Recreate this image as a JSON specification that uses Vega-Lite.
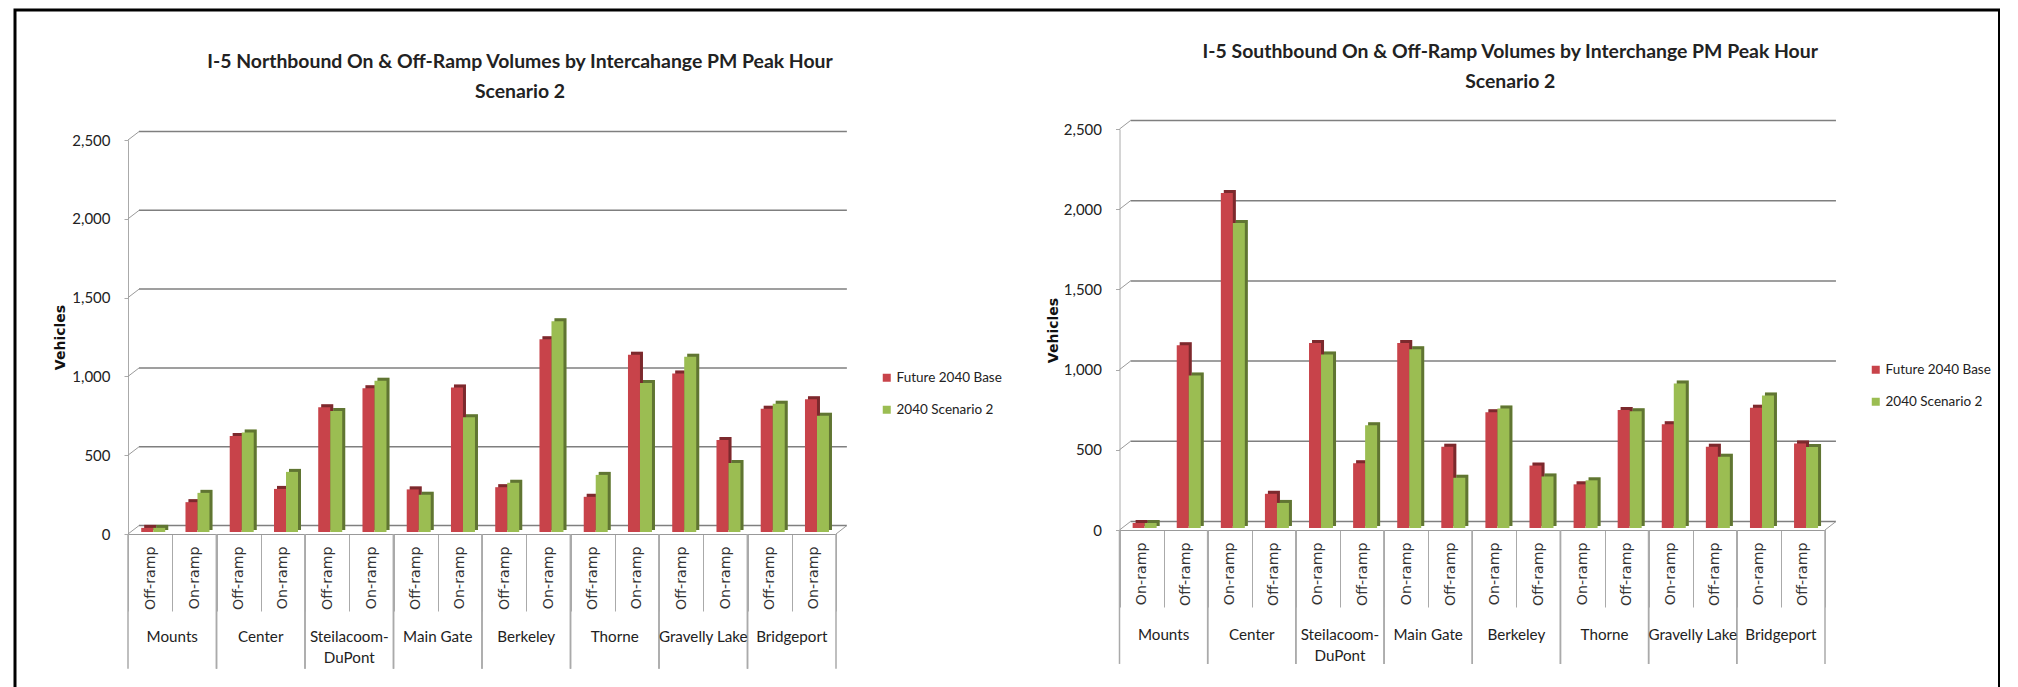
{"$schema":"https://vega.github.io/schema/vega-lite/v6.json","width":1984.5,"height":680,"padding":{"left":15,"top":10,"right":0,"bottom":0},"autosize":{"type":"none"},"background":"white","view":{"stroke":"#000","strokeWidth":3},
"datasets":{
"north":[
{"key":"Mounts|Off-ramp","series":"Future 2040 Base","value":20},{"key":"Mounts|Off-ramp","series":"2040 Scenario 2","value":20},
{"key":"Mounts|On-ramp","series":"Future 2040 Base","value":183},{"key":"Mounts|On-ramp","series":"2040 Scenario 2","value":242},
{"key":"Center|Off-ramp","series":"Future 2040 Base","value":603},{"key":"Center|Off-ramp","series":"2040 Scenario 2","value":625},
{"key":"Center|On-ramp","series":"Future 2040 Base","value":267},{"key":"Center|On-ramp","series":"2040 Scenario 2","value":375},
{"key":"Steilacoom-DuPont|Off-ramp","series":"Future 2040 Base","value":786},{"key":"Steilacoom-DuPont|Off-ramp","series":"2040 Scenario 2","value":761},
{"key":"Steilacoom-DuPont|On-ramp","series":"Future 2040 Base","value":906},{"key":"Steilacoom-DuPont|On-ramp","series":"2040 Scenario 2","value":953},
{"key":"Main Gate|Off-ramp","series":"Future 2040 Base","value":264},{"key":"Main Gate|Off-ramp","series":"2040 Scenario 2","value":230},
{"key":"Main Gate|On-ramp","series":"Future 2040 Base","value":911},{"key":"Main Gate|On-ramp","series":"2040 Scenario 2","value":722},
{"key":"Berkeley|Off-ramp","series":"Future 2040 Base","value":278},{"key":"Berkeley|Off-ramp","series":"2040 Scenario 2","value":306},
{"key":"Berkeley|On-ramp","series":"Future 2040 Base","value":1217},{"key":"Berkeley|On-ramp","series":"2040 Scenario 2","value":1331},
{"key":"Thorne|Off-ramp","series":"Future 2040 Base","value":217},{"key":"Thorne|Off-ramp","series":"2040 Scenario 2","value":356},
{"key":"Thorne|On-ramp","series":"Future 2040 Base","value":1119},{"key":"Thorne|On-ramp","series":"2040 Scenario 2","value":939},
{"key":"Gravelly Lake|Off-ramp","series":"Future 2040 Base","value":1000},{"key":"Gravelly Lake|Off-ramp","series":"2040 Scenario 2","value":1106},
{"key":"Gravelly Lake|On-ramp","series":"Future 2040 Base","value":578},{"key":"Gravelly Lake|On-ramp","series":"2040 Scenario 2","value":431},
{"key":"Bridgeport|Off-ramp","series":"Future 2040 Base","value":775},{"key":"Bridgeport|Off-ramp","series":"2040 Scenario 2","value":808},
{"key":"Bridgeport|On-ramp","series":"Future 2040 Base","value":836},{"key":"Bridgeport|On-ramp","series":"2040 Scenario 2","value":731}],
"south":[
{"key":"Mounts|On-ramp","series":"Future 2040 Base","value":25},{"key":"Mounts|On-ramp","series":"2040 Scenario 2","value":25},
{"key":"Mounts|Off-ramp","series":"Future 2040 Base","value":1133},{"key":"Mounts|Off-ramp","series":"2040 Scenario 2","value":945},
{"key":"Center|On-ramp","series":"Future 2040 Base","value":2083},{"key":"Center|On-ramp","series":"2040 Scenario 2","value":1895},
{"key":"Center|Off-ramp","series":"Future 2040 Base","value":207},{"key":"Center|Off-ramp","series":"2040 Scenario 2","value":150},
{"key":"Steilacoom-DuPont|On-ramp","series":"Future 2040 Base","value":1147},{"key":"Steilacoom-DuPont|On-ramp","series":"2040 Scenario 2","value":1076},
{"key":"Steilacoom-DuPont|Off-ramp","series":"Future 2040 Base","value":397},{"key":"Steilacoom-DuPont|Off-ramp","series":"2040 Scenario 2","value":634},
{"key":"Main Gate|On-ramp","series":"Future 2040 Base","value":1147},{"key":"Main Gate|On-ramp","series":"2040 Scenario 2","value":1108},
{"key":"Main Gate|Off-ramp","series":"Future 2040 Base","value":500},{"key":"Main Gate|Off-ramp","series":"2040 Scenario 2","value":307},
{"key":"Berkeley|On-ramp","series":"Future 2040 Base","value":715},{"key":"Berkeley|On-ramp","series":"2040 Scenario 2","value":739},
{"key":"Berkeley|Off-ramp","series":"Future 2040 Base","value":383},{"key":"Berkeley|Off-ramp","series":"2040 Scenario 2","value":315},
{"key":"Thorne|On-ramp","series":"Future 2040 Base","value":266},{"key":"Thorne|On-ramp","series":"2040 Scenario 2","value":291},
{"key":"Thorne|Off-ramp","series":"Future 2040 Base","value":730},{"key":"Thorne|Off-ramp","series":"2040 Scenario 2","value":722},
{"key":"Gravelly Lake|On-ramp","series":"Future 2040 Base","value":640},{"key":"Gravelly Lake|On-ramp","series":"2040 Scenario 2","value":894},
{"key":"Gravelly Lake|Off-ramp","series":"Future 2040 Base","value":500},{"key":"Gravelly Lake|Off-ramp","series":"2040 Scenario 2","value":438},
{"key":"Bridgeport|On-ramp","series":"Future 2040 Base","value":743},{"key":"Bridgeport|On-ramp","series":"2040 Scenario 2","value":820},
{"key":"Bridgeport|Off-ramp","series":"Future 2040 Base","value":520},{"key":"Bridgeport|Off-ramp","series":"2040 Scenario 2","value":498}],
"grid":[{"v":0},{"v":500},{"v":1000},{"v":1500},{"v":2000},{"v":2500}],
"floor":[{"v":0}],
"groupsN":[{"label":"Mounts","first":"Mounts|Off-ramp","second":"Mounts|On-ramp"},{"label":"Center","first":"Center|Off-ramp","second":"Center|On-ramp"},{"label":"Steilacoom-\nDuPont","first":"Steilacoom-DuPont|Off-ramp","second":"Steilacoom-DuPont|On-ramp"},{"label":"Main Gate","first":"Main Gate|Off-ramp","second":"Main Gate|On-ramp"},{"label":"Berkeley","first":"Berkeley|Off-ramp","second":"Berkeley|On-ramp"},{"label":"Thorne","first":"Thorne|Off-ramp","second":"Thorne|On-ramp"},{"label":"Gravelly Lake","first":"Gravelly Lake|Off-ramp","second":"Gravelly Lake|On-ramp"},{"label":"Bridgeport","first":"Bridgeport|Off-ramp","second":"Bridgeport|On-ramp"}],
"groupsS":[{"label":"Mounts","first":"Mounts|On-ramp","second":"Mounts|Off-ramp"},{"label":"Center","first":"Center|On-ramp","second":"Center|Off-ramp"},{"label":"Steilacoom-\nDuPont","first":"Steilacoom-DuPont|On-ramp","second":"Steilacoom-DuPont|Off-ramp"},{"label":"Main Gate","first":"Main Gate|On-ramp","second":"Main Gate|Off-ramp"},{"label":"Berkeley","first":"Berkeley|On-ramp","second":"Berkeley|Off-ramp"},{"label":"Thorne","first":"Thorne|On-ramp","second":"Thorne|Off-ramp"},{"label":"Gravelly Lake","first":"Gravelly Lake|On-ramp","second":"Gravelly Lake|Off-ramp"},{"label":"Bridgeport","first":"Bridgeport|On-ramp","second":"Bridgeport|Off-ramp"}],
"titleN":[{"t":"I-5 Northbound On & Off-Ramp Volumes by Intercahange PM Peak Hour\nScenario 2"}],
"titleS":[{"t":"I-5 Southbound On & Off-Ramp Volumes by Interchange PM Peak Hour\nScenario 2"}]
},
"resolve":{"scale":{"x":"independent","y":"independent","color":"independent"}},
"layer":[
{"layer":[
{"data":{"name":"grid"},"mark":{"type":"rule","color":"#7f7f7f","strokeWidth":1.5,"xOffset":11,"yOffset":-8.5,"x2Offset":33},"encoding":{"x":{"datum":"Mounts|Off-ramp","bandPosition":0,"type":"nominal","scale":{"domain":["Mounts|Off-ramp","Mounts|On-ramp","Center|Off-ramp","Center|On-ramp","Steilacoom-DuPont|Off-ramp","Steilacoom-DuPont|On-ramp","Main Gate|Off-ramp","Main Gate|On-ramp","Berkeley|Off-ramp","Berkeley|On-ramp","Thorne|Off-ramp","Thorne|On-ramp","Gravelly Lake|Off-ramp","Gravelly Lake|On-ramp","Bridgeport|Off-ramp","Bridgeport|On-ramp"],"range":[113,821],"paddingInner":0,"paddingOuter":0},"axis":{"orient":"bottom","title":null,"offset":-156,"labelExpr":"split(datum.label,'|')[1]","labelAngle":-90,"labelFont":"DejaVu Sans","labelFontSize":14.2,"labelColor":"#333","labelPadding":-65,"tickBand":"extent","tickSize":77,"tickColor":"#aaa","domainColor":"#999","labelOverlap":false,"grid":false}},"x2":{"datum":"Bridgeport|On-ramp"},"y":{"field":"v","type":"quantitative","scale":{"domain":[0,2500],"range":[524,130],"nice":false,"zero":false},"axis":{"orient":"left","title":"Vehicles","titleFont":"DejaVu Sans","titleFontSize":14,"titleFontWeight":"bold","titleColor":"#111","titleX":-61,"titleY":327,"offset":-113,"values":[0,500,1000,1500,2000,2500],"format":",d","labelFont":"Lato","labelFontSize":15,"labelColor":"#222","labelPadding":14,"tickSize":4,"tickColor":"#aaa","domainColor":"#aaa","grid":false}}}},
{"data":{"name":"grid"},"mark":{"type":"rule","color":"#9a9a9a","strokeWidth":1,"x2Offset":-11,"y2Offset":-8.5},"encoding":{"x":{"datum":"Mounts|Off-ramp","bandPosition":0,"type":"nominal"},"x2":{"datum":"Mounts|Off-ramp"},"y":{"field":"v","type":"quantitative"},"y2":{"field":"v"}}},
{"data":{"name":"floor"},"mark":{"type":"rule","color":"#9a9a9a","strokeWidth":1,"x2Offset":33,"y2Offset":-8.5},"encoding":{"x":{"datum":"Bridgeport|On-ramp","bandPosition":1,"type":"nominal"},"x2":{"datum":"Bridgeport|On-ramp"},"y":{"field":"v","type":"quantitative"},"y2":{"field":"v"}}},
{"data":{"name":"groupsN"},"mark":{"type":"rule","color":"#aaa","strokeWidth":1.5},"encoding":{"x":{"field":"first","type":"nominal","bandPosition":0},"y":{"datum":0,"type":"quantitative"},"y2":{"datum":-855}}},
{"data":{"name":"groupsN"},"mark":{"type":"rule","color":"#aaa","strokeWidth":1.5},"encoding":{"x":{"field":"second","type":"nominal","bandPosition":1},"y":{"datum":0,"type":"quantitative"},"y2":{"datum":-855}}},
{"data":{"name":"groupsN"},"mark":{"type":"text","font":"Lato","fontSize":15.2,"color":"#222","baseline":"top","lineBreak":"\n","lineHeight":21},"encoding":{"x":{"field":"second","type":"nominal","bandPosition":0},"y":{"datum":-606,"type":"quantitative"},"text":{"field":"label"}}},
{"data":{"name":"titleN"},"mark":{"type":"text","font":"Lato","fontWeight":"bold","fontSize":19.4,"color":"#222","baseline":"top","lineBreak":"\n","lineHeight":30,"dx":38},"encoding":{"x":{"datum":"Berkeley|Off-ramp","bandPosition":0,"type":"nominal"},"y":{"datum":3052,"type":"quantitative"},"text":{"field":"t"}}},
{"data":{"name":"north"},"mark":{"type":"bar","width":12,"xOffset":{"expr":"datum.series==='Future 2040 Base'?0.1:12.1"},"yOffset":-6,"y2Offset":-4},"encoding":{"x":{"field":"key","type":"nominal"},"y":{"field":"value","type":"quantitative"},"y2":{"datum":0},"color":{"field":"series","scale":{"domain":["Future 2040 Base","2040 Scenario 2"],"range":["#c8434a","#9bbd52"]},"legend":{"title":null,"orient":"none","legendX":865,"legendY":361,"symbolType":"square","symbolSize":64,"labelFont":"Lato","labelFontSize":13.5,"labelColor":"#222","rowPadding":17,"labelOffset":3}}}},
{"data":{"name":"north"},"mark":{"type":"bar","color":"#000","opacity":0.38,"width":12,"xOffset":{"expr":"datum.series==='Future 2040 Base'?0.1:12.1"},"yOffset":-6,"y2Offset":-4},"encoding":{"x":{"field":"key","type":"nominal"},"y":{"field":"value","type":"quantitative"},"y2":{"datum":0}}},
{"data":{"name":"north"},"mark":{"type":"bar","width":12,"xOffset":{"expr":"datum.series==='Future 2040 Base'?-2.9:9.1"},"yOffset":-3,"y2Offset":-2},"encoding":{"x":{"field":"key","type":"nominal"},"y":{"field":"value","type":"quantitative"},"y2":{"datum":0},"color":{"field":"series"}}}
]},
{"layer":[
{"data":{"name":"grid"},"mark":{"type":"rule","color":"#7f7f7f","strokeWidth":1.5,"xOffset":11,"yOffset":-8.5,"x2Offset":33},"encoding":{"x":{"datum":"Mounts|On-ramp","bandPosition":0,"type":"nominal","scale":{"domain":["Mounts|On-ramp","Mounts|Off-ramp","Center|On-ramp","Center|Off-ramp","Steilacoom-DuPont|On-ramp","Steilacoom-DuPont|Off-ramp","Main Gate|On-ramp","Main Gate|Off-ramp","Berkeley|On-ramp","Berkeley|Off-ramp","Thorne|On-ramp","Thorne|Off-ramp","Gravelly Lake|On-ramp","Gravelly Lake|Off-ramp","Bridgeport|On-ramp","Bridgeport|Off-ramp"],"range":[1104.5,1810],"paddingInner":0,"paddingOuter":0},"axis":{"orient":"bottom","title":null,"offset":-160,"labelExpr":"split(datum.label,'|')[1]","labelAngle":-90,"labelFont":"DejaVu Sans","labelFontSize":14.2,"labelColor":"#333","labelPadding":-65,"tickBand":"extent","tickSize":77,"tickColor":"#aaa","domainColor":"#999","labelOverlap":false,"grid":false}},"x2":{"datum":"Bridgeport|Off-ramp"},"y":{"field":"v","type":"quantitative","scale":{"domain":[0,2500],"range":[520,119],"nice":false,"zero":false},"axis":{"orient":"left","title":"Vehicles","titleFont":"DejaVu Sans","titleFontSize":14,"titleFontWeight":"bold","titleColor":"#111","titleX":-59,"titleY":320,"offset":-1104.5,"values":[0,500,1000,1500,2000,2500],"format":",d","labelFont":"Lato","labelFontSize":15,"labelColor":"#222","labelPadding":14,"tickSize":4,"tickColor":"#aaa","domainColor":"#aaa","grid":false}}}},
{"data":{"name":"grid"},"mark":{"type":"rule","color":"#9a9a9a","strokeWidth":1,"x2Offset":-11,"y2Offset":-8.5},"encoding":{"x":{"datum":"Mounts|On-ramp","bandPosition":0,"type":"nominal"},"x2":{"datum":"Mounts|On-ramp"},"y":{"field":"v","type":"quantitative"},"y2":{"field":"v"}}},
{"data":{"name":"floor"},"mark":{"type":"rule","color":"#9a9a9a","strokeWidth":1,"x2Offset":33,"y2Offset":-8.5},"encoding":{"x":{"datum":"Bridgeport|Off-ramp","bandPosition":1,"type":"nominal"},"x2":{"datum":"Bridgeport|Off-ramp"},"y":{"field":"v","type":"quantitative"},"y2":{"field":"v"}}},
{"data":{"name":"groupsS"},"mark":{"type":"rule","color":"#aaa","strokeWidth":1.5},"encoding":{"x":{"field":"first","type":"nominal","bandPosition":0},"y":{"datum":0,"type":"quantitative"},"y2":{"datum":-835}}},
{"data":{"name":"groupsS"},"mark":{"type":"rule","color":"#aaa","strokeWidth":1.5},"encoding":{"x":{"field":"second","type":"nominal","bandPosition":1},"y":{"datum":0,"type":"quantitative"},"y2":{"datum":-835}}},
{"data":{"name":"groupsS"},"mark":{"type":"text","font":"Lato","fontSize":15.2,"color":"#222","baseline":"top","lineBreak":"\n","lineHeight":21},"encoding":{"x":{"field":"second","type":"nominal","bandPosition":0},"y":{"datum":-611,"type":"quantitative"},"text":{"field":"label"}}},
{"data":{"name":"titleS"},"mark":{"type":"text","font":"Lato","fontWeight":"bold","fontSize":19.4,"color":"#222","baseline":"top","lineBreak":"\n","lineHeight":30,"dx":38},"encoding":{"x":{"datum":"Berkeley|On-ramp","bandPosition":0,"type":"nominal"},"y":{"datum":3039,"type":"quantitative"},"text":{"field":"t"}}},
{"data":{"name":"south"},"mark":{"type":"bar","width":12,"xOffset":{"expr":"datum.series==='Future 2040 Base'?0.1:12.1"},"yOffset":-6,"y2Offset":-4},"encoding":{"x":{"field":"key","type":"nominal"},"y":{"field":"value","type":"quantitative"},"y2":{"datum":0},"color":{"field":"series","scale":{"domain":["Future 2040 Base","2040 Scenario 2"],"range":["#c8434a","#9bbd52"]},"legend":{"title":null,"orient":"none","legendX":1854,"legendY":353,"symbolType":"square","symbolSize":64,"labelFont":"Lato","labelFontSize":13.5,"labelColor":"#222","rowPadding":17,"labelOffset":3}}}},
{"data":{"name":"south"},"mark":{"type":"bar","color":"#000","opacity":0.38,"width":12,"xOffset":{"expr":"datum.series==='Future 2040 Base'?0.1:12.1"},"yOffset":-6,"y2Offset":-4},"encoding":{"x":{"field":"key","type":"nominal"},"y":{"field":"value","type":"quantitative"},"y2":{"datum":0}}},
{"data":{"name":"south"},"mark":{"type":"bar","width":12,"xOffset":{"expr":"datum.series==='Future 2040 Base'?-2.9:9.1"},"yOffset":-3,"y2Offset":-2},"encoding":{"x":{"field":"key","type":"nominal"},"y":{"field":"value","type":"quantitative"},"y2":{"datum":0},"color":{"field":"series"}}}
]}
]}
